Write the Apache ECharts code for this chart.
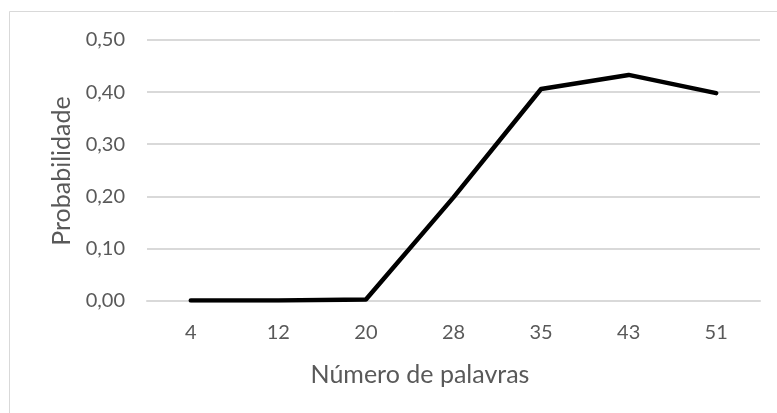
<!DOCTYPE html>
<html>
<head>
<meta charset="utf-8">
<script src="https://cdn.jsdelivr.net/npm/echarts@6/dist/echarts.min.js"></script>
<style>
  html, body { margin: 0; padding: 0; background: #fff; }
  #chart { width: 777px; height: 413px; }
</style>
</head>
<body>
<div id="chart"></div>
<script>
// Number of words per sample and the probability measured for each
const categories = ['4', '12', '20', '28', '35', '43', '51'];
const probabilities = [0.000, 0.000, 0.002, 0.198, 0.406, 0.433, 0.398];
const yTicks = { min: 0, max: 0.5, interval: 0.1 };
const xTitle = 'Número de palavras';
const yTitle = 'Probabilidade';

const textColor = '#595959';
const gridColor = '#d9d9d9';
const fontFamily = 'Lato, "Open Sans", sans-serif';

const chart = echarts.init(document.getElementById('chart'), null, { renderer: 'canvas' });

chart.setOption({
  animation: false,
  backgroundColor: '#ffffff',
  graphic: [
    {
      // chart frame (only its top and left edges fall inside the page)
      type: 'rect',
      shape: { x: 9.5, y: 11.5, width: 800, height: 440 },
      style: { fill: 'none', stroke: gridColor, lineWidth: 1 },
      silent: true
    },
    {
      type: 'text',
      x: 420, y: 375,
      style: {
        text: xTitle, fill: textColor, font: '25px ' + fontFamily,
        textAlign: 'center', textVerticalAlign: 'middle'
      },
      silent: true
    },
    {
      type: 'text',
      x: 62, y: 171,
      rotation: Math.PI / 2,
      style: {
        text: yTitle, fill: textColor, font: '25px ' + fontFamily,
        textAlign: 'center', textVerticalAlign: 'middle'
      },
      silent: true
    }
  ],
  grid: { left: 147, right: 17, top: 40, bottom: 112.5, containLabel: false },
  xAxis: {
    type: 'category',
    data: categories,
    boundaryGap: true,
    axisLine: { show: true, lineStyle: { color: gridColor, width: 2 } },
    axisTick: { show: false },
    axisLabel: { color: textColor, fontSize: 20, lineHeight: 20, fontFamily: fontFamily, margin: 22 },
    splitLine: { show: false }
  },
  yAxis: {
    type: 'value',
    min: yTicks.min,
    max: yTicks.max,
    interval: yTicks.interval,
    axisLine: { show: false },
    axisTick: { show: false },
    axisLabel: {
      color: textColor,
      fontSize: 20,
      fontFamily: fontFamily,
      margin: 22,
      formatter: v => v.toFixed(2).replace('.', ',')
    },
    splitLine: { show: true, lineStyle: { color: gridColor, width: 2 } }
  },
  series: [{
    type: 'line',
    data: probabilities,
    showSymbol: false,
    symbol: 'none',
    smooth: false,
    lineStyle: { color: '#000000', width: 4.5, cap: 'round', join: 'round' },
    z: 3
  }]
});
</script>
</body>
</html>
